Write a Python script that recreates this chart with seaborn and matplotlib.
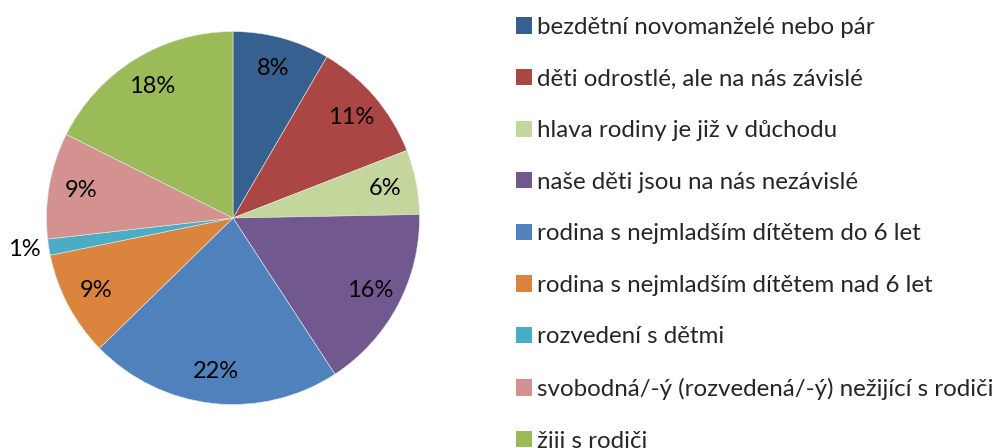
import matplotlib
matplotlib.use("Agg")
import matplotlib.pyplot as plt
import seaborn as sns
from matplotlib.patches import Patch

categories = [
    "bezdětní novomanželé nebo pár",
    "děti odrostlé, ale na nás závislé",
    "hlava rodiny je již v důchodu",
    "naše děti jsou na nás nezávislé",
    "rodina s nejmladším dítětem do 6 let",
    "rodina s nejmladším dítětem nad 6 let",
    "rozvedení s dětmi",
    "svobodná/-ý (rozvedená/-ý) nežijící s rodiči",
    "žiji s rodiči",
]
values = [8.4, 10.7, 5.6, 16.1, 21.9, 9.1, 1.4, 9.2, 17.6]
colors = ["#36608F", "#AA4643", "#C3D69B", "#71588F", "#4F81BD",
          "#DB843D", "#4BACC6", "#D39290", "#9BBB59"]

sns.set_theme(style="white")
plt.rcParams["font.family"] = ["Lato", "DejaVu Sans"]

W, H = 1005, 448
fig = plt.figure(figsize=(W / 100, H / 100), dpi=100)
cx, cy, r = 233, 218, 186.5
ax = fig.add_axes([(cx - r) / W, (H - cy - r) / H, 2 * r / W, 2 * r / H])

wedges, texts, autotexts = ax.pie(
    values, colors=colors, startangle=90, counterclock=False,
    autopct=lambda p: f"{p:.0f}%", pctdistance=0.83,
    wedgeprops=dict(linewidth=0.4, edgecolor="#e8e8e8"),
    textprops=dict(fontsize=17, color="black"),
)
# small slice label placed outside
autotexts[6].set_position((-1.12, -0.17))
ax.set_xlim(-1, 1)
ax.set_ylim(-1, 1)
ax.axis("off")

handles = [Patch(facecolor=c, edgecolor="none") for c in colors]
fig.legend(handles, categories, loc="upper left",
           bbox_to_anchor=(516 / W, 1 - 17 / H), frameon=False,
           fontsize=17.4, handlelength=0.66, handleheight=0.66,
           handletextpad=0.22, labelspacing=1.265, borderpad=0,
           borderaxespad=0)

fig.savefig("out.png", dpi=100)
